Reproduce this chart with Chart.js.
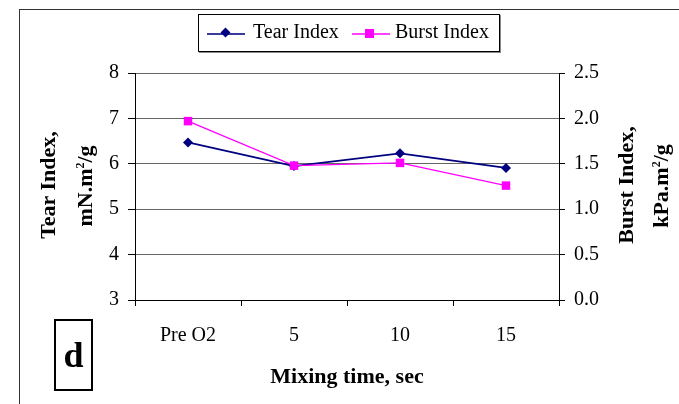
<!DOCTYPE html>
<html>
<head>
<style>
  body { margin: 0; background: #fff; }
  #wrap { position: relative; width: 679px; height: 404px; overflow: hidden; font-family: "Liberation Serif", serif; color: #000; }
  #frame { position: absolute; left: 19px; top: 9px; width: 700px; height: 420px; border: 1.5px solid #333; }
  canvas { position: absolute; left: 0; top: 0; }
  .ttl { position: absolute; font-weight: bold; font-size: 22px; white-space: nowrap; transform: translate(-50%, -50%) rotate(-90deg); }
  .ttl sup { font-size: 12px; }
  #xtitle { position: absolute; left: 347px; top: 376px; transform: translate(-50%, -50%); font-weight: bold; font-size: 22px; white-space: nowrap; }
  #legend { position: absolute; left: 198px; top: 14px; width: 300px; height: 36px; border: 1px solid #000; box-shadow: 1px 1px 0 #888; }
  .sample { position: absolute; top: 18px; height: 2px; width: 38px; }
  .mk { position: absolute; }
  .lt { position: absolute; top: 5px; font-size: 20px; white-space: nowrap; }
  #dbox { position: absolute; left: 54px; top: 319px; width: 35px; height: 68px; border: 2px solid #000; font-weight: bold; font-size: 36px; text-align: center; line-height: 68px; }
</style>
</head>
<body>
<div id="wrap">
  <div id="frame"></div>
  <canvas id="chartMixing" width="679" height="404"></canvas>
  <div class="ttl" style="left:48px; top:185px;">Tear Index,</div>
  <div class="ttl" style="left:85px; top:186px;">mN.m<sup>2</sup>/g</div>
  <div class="ttl" style="left:626px; top:185px;">Burst Index,</div>
  <div class="ttl" style="left:661px; top:186px;">kPa.m<sup>2</sup>/g</div>
  <div id="xtitle">Mixing time, sec</div>
  <div id="legend">
    <div class="sample" style="left:8px; background:#3b3b9e;"></div>
    <div class="mk" style="left:23px; top:14px; width:7px; height:7px; background:#000080; transform:rotate(45deg);"></div>
    <div class="lt" style="left:54px;">Tear Index</div>
    <div class="sample" style="left:153px; background:#ff40ff;"></div>
    <div class="mk" style="left:166px; top:14px; width:9px; height:9px; background:#ff00ff;"></div>
    <div class="lt" style="left:196px;">Burst Index</div>
  </div>
  <div id="dbox">d</div>
</div>
<script src="https://cdn.jsdelivr.net/npm/chart.js@4"></script>
<script>
// values
const mixingTimes = ['Pre O2', '5', '10', '15'];
const tearIndex = [6.47, 5.95, 6.23, 5.91];
const burstIndex = [1.97, 1.48, 1.51, 1.26];

const tickFont = { family: 'Liberation Serif', size: 20 };

new Chart(document.getElementById('chartMixing').getContext('2d'), {
    type: 'line',
    data: {
        labels: mixingTimes,
        datasets: [{
            label: 'Burst Index',
            data: burstIndex,
            yAxisID: 'y1',
            order: 0,
            borderColor: '#ff00ff',
            backgroundColor: '#ff00ff',
            borderWidth: 1.3,
            pointStyle: 'rect',
            pointRadius: 6,
            pointBorderWidth: 0,
            tension: 0
        }, {
            label: 'Tear Index',
            data: tearIndex,
            yAxisID: 'y',
            order: 1,
            borderColor: '#000080',
            backgroundColor: '#000080',
            borderWidth: 1.8,
            pointStyle: 'rectRot',
            pointRadius: 5,
            pointBorderWidth: 0,
            tension: 0
        }]
    },
    options: {
        responsive: false,
        animation: false,
        layout: { padding: { top: 73, left: 0, right: 0, bottom: 0 } },
        plugins: { legend: { display: false }, tooltip: { enabled: false } },
        scales: {
            x: {
                offset: true,
                grid: { drawOnChartArea: false, drawTicks: true, tickLength: 6, color: '#000', offset: true },
                border: { color: '#000', width: 1 },
                ticks: { font: tickFont, color: '#000', padding: 18, maxRotation: 0 },
                afterFit: function(s) { s.height = 104; }
            },
            y: {
                position: 'left',
                min: 3, max: 8,
                ticks: { stepSize: 1, font: tickFont, color: '#000', padding: 9 },
                grid: { color: '#666', lineWidth: 1, tickColor: '#000', tickLength: 7 },
                border: { color: '#000', width: 1 },
                afterFit: function(s) { s.width = 135; }
            },
            y1: {
                position: 'right',
                min: 0, max: 2.5,
                ticks: { stepSize: 0.5, font: tickFont, color: '#000', padding: 9,
                         callback: v => v.toFixed(1) },
                grid: { drawOnChartArea: false, color: '#000', tickLength: 6 },
                border: { color: '#000', width: 1 },
                afterFit: function(s) { s.width = 120; }
            }
        }
    }
});
</script>
</body>
</html>
